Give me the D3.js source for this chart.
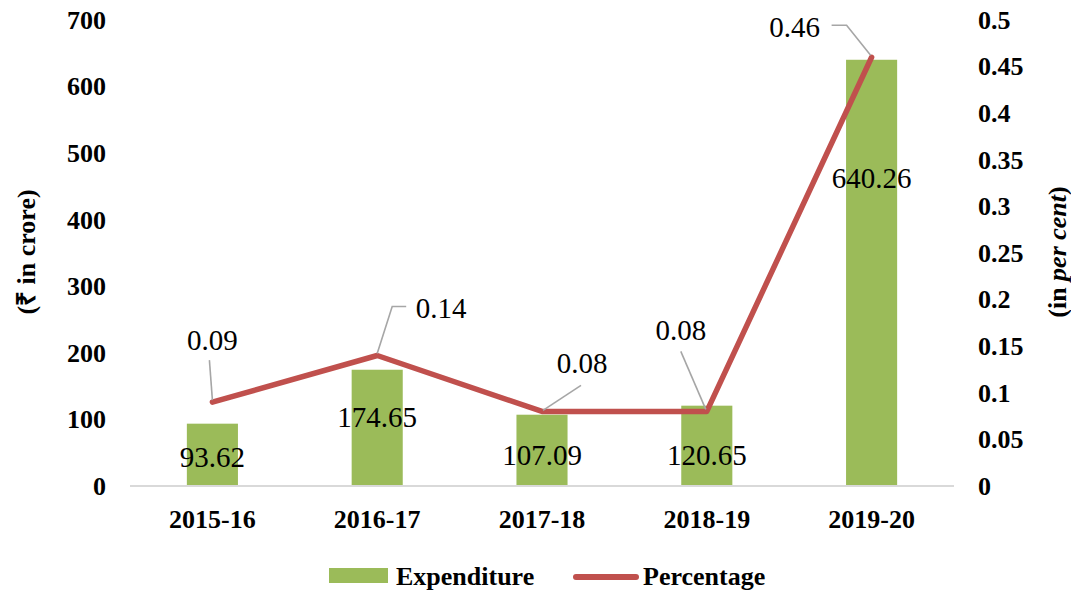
<!DOCTYPE html>
<html>
<head>
<meta charset="utf-8">
<script src="https://cdn.jsdelivr.net/npm/d3@7"></script>
<style>
  body { margin: 0; background: #fff; }
  svg text { font-family: "Liberation Serif", "Times New Roman", serif !important; fill: #000; }
</style>
</head>
<body>
<script>
var years = ["2015-16", "2016-17", "2017-18", "2018-19", "2019-20"];
var expenditure = [93.62, 174.65, 107.09, 120.65, 640.26];
var percentage = [0.09, 0.14, 0.08, 0.08, 0.46];
var leftTicks = [0, 100, 200, 300, 400, 500, 600, 700];
var rightTicks = [0, 0.05, 0.1, 0.15, 0.2, 0.25, 0.3, 0.35, 0.4, 0.45, 0.5];

// hand placed label layout (px offsets), like the original
var barLabelOffset = [43, 57, 50, 59, 128];
var pctLabelOffset = [[0, -52], [64, -38], [40, -38], [-26, -71], [-77, -20]];
var pctLeader = [
  [[-3, -42], [0, -2]],
  [[0, -2], [15, -49], [29, -49]],
  [[1, -1], [39, -26]],
  [[-26, -60], [-1, -2]],
  [[-40, -32], [-25, -32], [-1, -2]]
];

var serif = "'Liberation Serif', 'Times New Roman', serif";

var width = 1071,
    height = 591;

var svg = d3.select("body").append("svg")
    .attr("width", width)
    .attr("height", height)
    .attr("font-family", serif);

var x = d3.scaleBand().domain(years).range([130, 954]).padding(0);
var y = d3.scaleLinear().domain([0, 700]).range([486, 20]);
var y2 = d3.scaleLinear().domain([0, 0.5]).range([486, 20]);
var barW = x.bandwidth() * 0.31;

// bars
svg.selectAll("rect.bar")
    .data(expenditure)
  .enter().append("rect")
    .attr("class", "bar")
    .attr("x", function(d, i){ return x(years[i]) + x.bandwidth()/2 - barW/2; })
    .attr("y", function(d){ return y(d); })
    .attr("width", barW)
    .attr("height", function(d){ return y(0) - y(d); })
    .attr("fill", "#9BBB59");

// x axis line
svg.append("line")
    .attr("x1", 130).attr("x2", 954)
    .attr("y1", y(0)).attr("y2", y(0))
    .attr("stroke", "#D9D9D9")
    .attr("stroke-width", 2);

// axes
var fontTick = function(g) {
  g.attr("font-family", serif);
  g.select(".domain").remove();
  g.selectAll("text")
    .style("font-family", serif)
    .style("font-size", "26px")
    .style("font-weight", "bold")
    .attr("fill", "#000");
};

svg.append("g")
    .attr("transform", "translate(130,0)")
    .call(d3.axisLeft(y).tickValues(leftTicks).tickSize(0).tickPadding(24))
    .call(fontTick);

svg.append("g")
    .attr("transform", "translate(954,0)")
    .call(d3.axisRight(y2).tickValues(rightTicks).tickSize(0).tickPadding(24)
      .tickFormat(function(d){ return d3.format("")(+d.toFixed(2)); }))
    .call(fontTick);

svg.append("g")
    .attr("transform", "translate(0," + y(0) + ")")
    .call(d3.axisBottom(x).tickSize(0).tickPadding(23.5))
    .call(fontTick);

// line
var pts = percentage.map(function(d, i){ return [x(years[i]) + x.bandwidth()/2, y2(d)]; });

svg.append("path")
    .datum(pts)
    .attr("d", d3.line())
    .attr("fill", "none")
    .attr("stroke", "#C0504D")
    .attr("stroke-width", 5.5)
    .attr("stroke-linejoin", "round")
    .attr("stroke-linecap", "round");

// leader lines
svg.selectAll("path.leader")
    .data(pctLeader)
  .enter().append("path")
    .attr("class", "leader")
    .attr("d", function(d, i){
      return d3.line()(d.map(function(p){ return [pts[i][0] + p[0], pts[i][1] + p[1]]; }));
    })
    .attr("fill", "none")
    .attr("stroke", "#A6A6A6")
    .attr("stroke-width", 1.6);

// percentage labels
svg.selectAll("text.pct")
    .data(percentage)
  .enter().append("text")
    .attr("class", "pct")
    .attr("x", function(d, i){ return pts[i][0] + pctLabelOffset[i][0]; })
    .attr("y", function(d, i){ return pts[i][1] + pctLabelOffset[i][1]; })
    .attr("text-anchor", "middle")
    .style("font-family", serif)
    .style("font-size", "29px")
    .text(function(d){ return d; });

// bar labels
svg.selectAll("text.val")
    .data(expenditure)
  .enter().append("text")
    .attr("class", "val")
    .attr("x", function(d, i){ return x(years[i]) + x.bandwidth()/2; })
    .attr("y", function(d, i){ return y(d) + barLabelOffset[i]; })
    .attr("text-anchor", "middle")
    .style("font-family", serif)
    .style("font-size", "29px")
    .text(function(d){ return d.toFixed(2); });

// axis titles
svg.append("text")
    .attr("transform", "translate(35,252) rotate(-90)")
    .attr("text-anchor", "middle")
    .style("font-family", serif)
    .style("font-size", "26px")
    .style("font-weight", "bold")
    .text("(₹ in crore)");

var rt = svg.append("text")
    .attr("transform", "translate(1066,252) rotate(-90)")
    .attr("text-anchor", "middle")
    .style("font-family", serif)
    .style("font-size", "26px")
    .style("font-weight", "bold");
rt.append("tspan").text("(in ");
rt.append("tspan").style("font-style", "italic").text("per cent");
rt.append("tspan").text(")");

// legend
var legend = svg.append("g");
legend.append("rect")
    .attr("x", 329).attr("y", 568)
    .attr("width", 59).attr("height", 15)
    .attr("fill", "#9BBB59");
legend.append("text")
    .attr("x", 396).attr("y", 585)
    .style("font-family", serif)
    .style("font-size", "26px")
    .style("font-weight", "bold")
    .text("Expenditure");
legend.append("line")
    .attr("x1", 576).attr("x2", 636)
    .attr("y1", 577).attr("y2", 577)
    .attr("stroke", "#C0504D")
    .attr("stroke-width", 6)
    .attr("stroke-linecap", "round");
legend.append("text")
    .attr("x", 643).attr("y", 585)
    .style("font-family", serif)
    .style("font-size", "26px")
    .style("font-weight", "bold")
    .text("Percentage");
</script>
</body>
</html>
